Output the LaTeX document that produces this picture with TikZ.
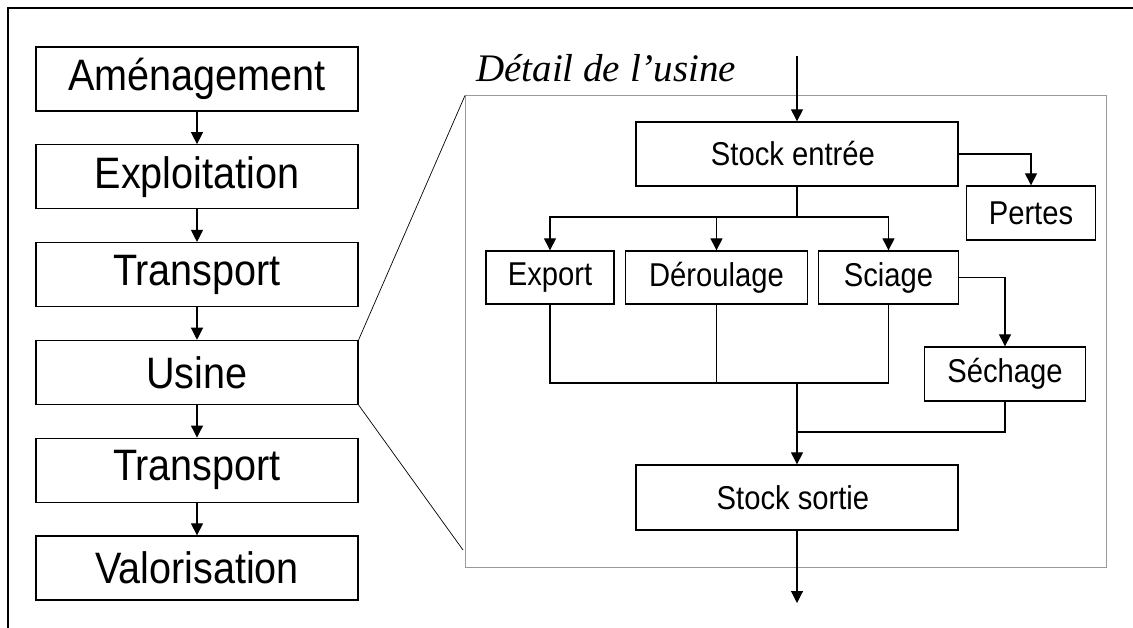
\documentclass[tikz,border=0pt]{standalone}
\usepackage{fontspec}
\setmainfont{Liberation Sans}
\newfontfamily\grandfont[FakeStretch=0.9]{Liberation Sans}
\newfontfamily\petitfont[FakeStretch=0.885]{Liberation Sans}
\newfontfamily\titrefont{Liberation Serif}
\usetikzlibrary{positioning}
\usetikzlibrary{arrows.meta}

\begin{document}
\begin{tikzpicture}[x=1pt,y=-1pt,
  etape/.style={draw,line width=1.3pt,minimum width=322pt,minimum height=64pt,
    inner sep=0pt,font=\grandfont\fontsize{44}{44}\selectfont},
  poste/.style={draw,line width=1.3pt,inner sep=0pt,
    font=\petitfont\fontsize{33}{33}\selectfont},
  fleche/.style={-{Triangle[width=12pt,length=12pt]},line width=1.1pt},
  lien/.style={line width=1.1pt},
  node distance=32.5pt]

  \useasboundingbox (0,0) rectangle (1133,628);
  \draw[line width=2.8pt] (1133,8) -- (8,8) -- (8,628);

  % filiere
  \node[etape] (amenag) at (197,79) {Aménagement~};
  \node[etape,below=of amenag] (exploit) {Exploitation~};
  \node[etape,below=of exploit] (transp1) {Transport~};
  \node[etape,below=of transp1] (usine) {Usine~};
  \node[etape,below=of usine] (transp2) {Transport~};
  \node[etape,below=of transp2] (valor) {Valorisation~};
  \foreach \a/\b in {amenag/exploit,exploit/transp1,transp1/usine,usine/transp2,transp2/valor}
    \draw[fleche] (\a) -- (\b);

  % detail de l'usine
  \node[draw=gray!80,line width=1pt,minimum width=641pt,minimum height=471pt,
    inner sep=0pt] (cadre) at (786,331.5) {};
  \node[anchor=base west,inner sep=0pt,font=\titrefont\itshape\fontsize{39}{39}\selectfont]
    (titre) at (476,82) {Détail de l’usine};
  \coordinate (zoombas) at (463,550);
  \draw[line width=0.7pt] (usine.north east) -- (cadre.north west);
  \draw[line width=0.7pt] (usine.south east) -- (zoombas);

  \node[poste,minimum width=322pt,minimum height=64pt] (entree) at (797,154) {Stock entrée~~};
  \node[poste,minimum width=129pt,minimum height=54pt] (pertes) at (1031,213) {Pertes~};
  \node[poste,minimum width=128pt,minimum height=53pt] (export) at (550,277.5) {Export~};
  \node[poste,minimum width=182pt,minimum height=53pt] (deroul) at (716.5,277.5) {Déroulage~};
  \node[poste,minimum width=140pt,minimum height=53pt] (sciage) at (888.5,277.5) {Sciage};
  \node[poste,minimum width=161pt,minimum height=54pt] (sechage) at (1005,374) {Séchage~};
  \node[poste,minimum width=322pt,minimum height=65pt] (sortie) at (797,497.5) {Stock sortie~~};

  \coordinate (entrant) at (797,56);
  \coordinate (fourche) at (797,217);
  \coordinate (jonction) at (797,383);
  \coordinate (retour) at (797,432);
  \coordinate (sortant) at (797,603);

  \draw[fleche] (entrant) -- (entree);
  \draw[fleche] (entree.east) -| (pertes.north);
  \draw[lien] (entree.south) -- (fourche);
  \foreach \p in {export,deroul,sciage}
    \draw[fleche] (fourche) -| (\p.north);
  \draw[fleche] (sciage.east) -| (sechage.north);
  \draw[lien] (export.south) |- (jonction) -| (sciage.south);
  \draw[lien] (deroul.south) -- (deroul.south |- jonction);
  \draw[lien] (sechage.south) |- (retour);
  \draw[fleche] (jonction) -- (sortie.north);
  \draw[fleche] (sortie) -- (sortant);
\end{tikzpicture}
\end{document}
